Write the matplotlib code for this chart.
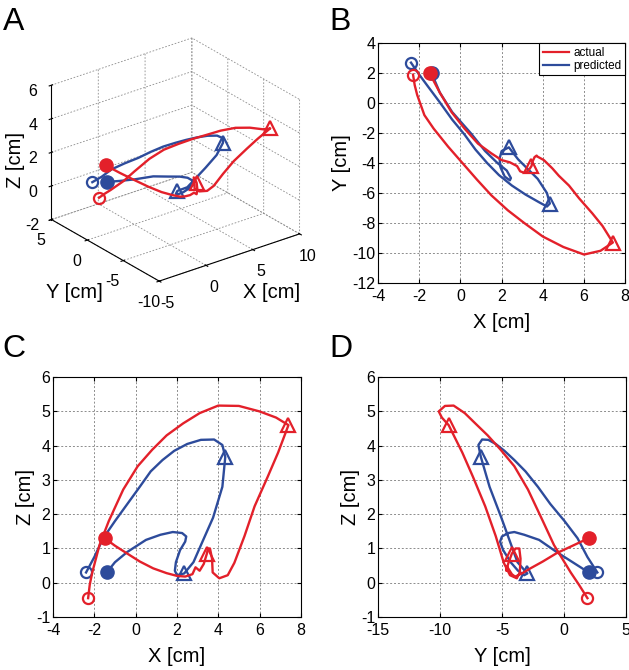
import matplotlib
matplotlib.use('Agg')
import matplotlib.pyplot as plt
import numpy as np

plt.rcParams['font.family'] = ['Liberation Sans', 'DejaVu Sans']
plt.rcParams['axes.unicode_minus'] = False

# hand trajectory, actual (red) and predicted (blue), x / y / z in cm
red_x = [-2.30, -2.22, -2.10, -1.75, -1.30, -0.60, 0.10, 0.80, 1.50, 2.30, 3.10, 4.00, 5.00, 6.00, 6.80, 7.40,
         6.90, 6.40, 5.76, 5.27, 4.78, 4.46, 4.05, 3.73, 3.70, 3.60, 3.50, 3.45, 3.30, 3.10, 2.90, 2.75,
         2.40, 2.00, 1.50, 0.85, 0.20, -0.43, -1.00, -1.50]
red_y = [1.90, 1.20, 0.55, -0.80, -1.70, -2.90, -4.00, -5.10, -6.15, -7.15, -8.00, -8.90, -9.60, -10.10, -9.85, -9.30,
         -8.20, -7.35, -6.35, -5.50, -4.85, -4.35, -3.80, -3.56, -3.50, -3.60, -3.90, -4.20, -4.50, -4.65, -4.55, -4.20,
         -3.95, -3.80, -3.35, -2.70, -1.70, -0.60, 0.70, 2.00]
red_z = [-0.45, -0.05, 0.30, 1.10, 1.80, 2.72, 3.40, 3.88, 4.30, 4.65, 4.95, 5.17, 5.16, 5.00, 4.82, 4.60,
         3.80, 3.10, 2.23, 1.36, 0.58, 0.22, 0.13, 0.30, 0.70, 1.00, 1.00, 0.85, 0.55, 0.35, 0.45, 0.25,
         0.18, 0.20, 0.28, 0.42, 0.62, 0.86, 1.08, 1.30]
red_far, red_near = 15, 27

blue_x = [-2.40, -2.00, -1.57, -1.00, -0.40, 0.20, 0.73, 1.30, 1.87, 2.50, 3.16, 3.80, 4.20, 4.34,
          4.20, 3.75, 3.20, 2.80, 2.35, 2.00, 1.90, 1.95, 2.15, 2.40, 2.45, 2.25, 1.80, 1.20, 0.50,
          -0.40, -1.00, -1.40]
blue_y = [2.70, 1.90, 1.10, 0.05, -1.10, -2.10, -3.10, -4.00, -4.80, -5.50, -6.10, -6.60, -6.90, -6.70,
          -6.00, -5.05, -4.30, -3.75, -2.95, -3.20, -3.70, -4.30, -4.90, -5.15, -5.00, -4.50, -4.00, -3.20, -2.00,
          -0.60, 0.70, 2.00]
blue_z = [0.30, 0.75, 1.30, 1.80, 2.30, 2.80, 3.25, 3.58, 3.85, 4.05, 4.17, 4.18, 4.02, 3.67,
          2.80, 1.90, 1.15, 0.60, 0.27, 0.22, 0.35, 0.60, 0.95, 1.20, 1.35, 1.45, 1.48, 1.40, 1.25,
          0.90, 0.60, 0.30]
blue_far, blue_near = 13, 18

RED = '#e3202a'
BLUE = '#2d4b9b'
LW = 1.7


def draw_traj(ax, pts, far, near, color, label=None):
    # pts is a list of coordinate lists (2 or 3 of them)
    ax.plot(*pts, color=color, lw=LW, label=label)
    first = [p[0] for p in pts]
    last = [p[-1] for p in pts]
    ax.plot(*[[v] for v in first], 'o', ms=8, mfc='none', mec=color, mew=1.6)
    ax.plot(*[[p[far]] for p in pts], '^', ms=10, mfc='none', mec=color, mew=1.6)
    ax.plot(*[[p[near]] for p in pts], '^', ms=10, mfc='none', mec=color, mew=1.6)
    ax.plot(*[[v] for v in last], 'o', ms=9.5, mfc=color, mec=color)


def style2d(ax, xlim, xticks, ylim, yticks, xlabel, ylabel):
    ax.set_xlim(xlim)
    ax.set_ylim(ylim)
    ax.set_xticks(xticks)
    ax.set_yticks(yticks)
    ax.grid(True, color='#8c8c8c', linestyle=(0, (2, 2)), linewidth=0.7)
    ax.tick_params(direction='in', top=True, right=True, length=3, labelsize=11.5)
    ax.tick_params(axis='x', pad=4)
    ax.tick_params(axis='y', pad=2)
    ax.set_xlabel(xlabel, fontsize=14.5, labelpad=7)
    ax.set_ylabel(ylabel, fontsize=14.5, labelpad=1)
    for s in ax.spines.values():
        s.set_linewidth(0.8)


fig = plt.figure(figsize=(6.29, 6.70), dpi=100)

# A: 3D view
axA = fig.add_axes([0.04, 0.545, 0.466, 0.4224], projection='3d', proj_type='ortho')
draw_traj(axA, [blue_x, blue_y, blue_z], blue_far, blue_near, BLUE)
draw_traj(axA, [red_x, red_y, red_z], red_far, red_near, RED)
axA.set_xlim(-5, 10)
axA.set_ylim(-10, 5)
axA.set_zlim(-2, 6)
axA.set_xticks([-5, 0, 5, 10])
axA.set_yticks([-10, -5, 0, 5])
axA.set_zticks([-2, 0, 2, 4, 6])
axA.view_init(elev=26, azim=-127.5)
axA.set_box_aspect((1, 1, 0.845))
for a in (axA.xaxis, axA.yaxis, axA.zaxis):
    a.set_pane_color((1, 1, 1, 0))
    a.pane.set_edgecolor('#8c8c8c')
    a._axinfo['grid'].update(color='#8c8c8c', linestyle=(0, (2, 2)), linewidth=0.6)
    a.line.set_color('black')
    a.line.set_linewidth(0.8)
axA.tick_params(labelsize=11.5, pad=0)
fig.text(0.024, 0.761, 'Z [cm]', rotation=90, fontsize=14.5, ha='center', va='center')
fig.text(0.118, 0.563, 'Y [cm]', fontsize=14.5, ha='center', va='center')
fig.text(0.432, 0.564, 'X [cm]', fontsize=14.5, ha='center', va='center')

# B: X-Y
axB = fig.add_axes([0.601, 0.5776, 0.393, 0.358])
draw_traj(axB, [blue_x, blue_y], blue_far, blue_near, BLUE)
draw_traj(axB, [red_x, red_y], red_far, red_near, RED)
style2d(axB, (-4, 8), range(-4, 9, 2), (-12, 4), range(-12, 5, 2), 'X [cm]', 'Y [cm]')
h = [plt.Line2D([], [], color=RED, lw=1.6), plt.Line2D([], [], color=BLUE, lw=1.6)]
leg = axB.legend(h, ['actual', 'predicted'], loc='upper right', fontsize=8.5, fancybox=False,
                 framealpha=1, edgecolor='black', borderaxespad=0, handlelength=2.2,
                 handletextpad=0.4, borderpad=0.3, labelspacing=0.1)
leg.get_frame().set_linewidth(0.8)

# C: X-Z
axC = fig.add_axes([0.0843, 0.0791, 0.394, 0.358])
draw_traj(axC, [blue_x, blue_z], blue_far, blue_near, BLUE)
draw_traj(axC, [red_x, red_z], red_far, red_near, RED)
style2d(axC, (-4, 8), range(-4, 9, 2), (-1, 6), range(-1, 7), 'X [cm]', 'Z [cm]')

# D: Y-Z
axD = fig.add_axes([0.601, 0.0791, 0.394, 0.358])
draw_traj(axD, [blue_y, blue_z], blue_far, blue_near, BLUE)
draw_traj(axD, [red_y, red_z], red_far, red_near, RED)
style2d(axD, (-15, 5), range(-15, 6, 5), (-1, 6), range(-1, 7), 'Y [cm]', 'Z [cm]')

for lab, x, y in [('A', 0.005, 0.99), ('B', 0.523, 0.99), ('C', 0.003, 0.502), ('D', 0.523, 0.502)]:
    fig.text(x, y, lab, fontsize=23, ha='left', va='top')

fig.savefig('out.png', dpi=100)
